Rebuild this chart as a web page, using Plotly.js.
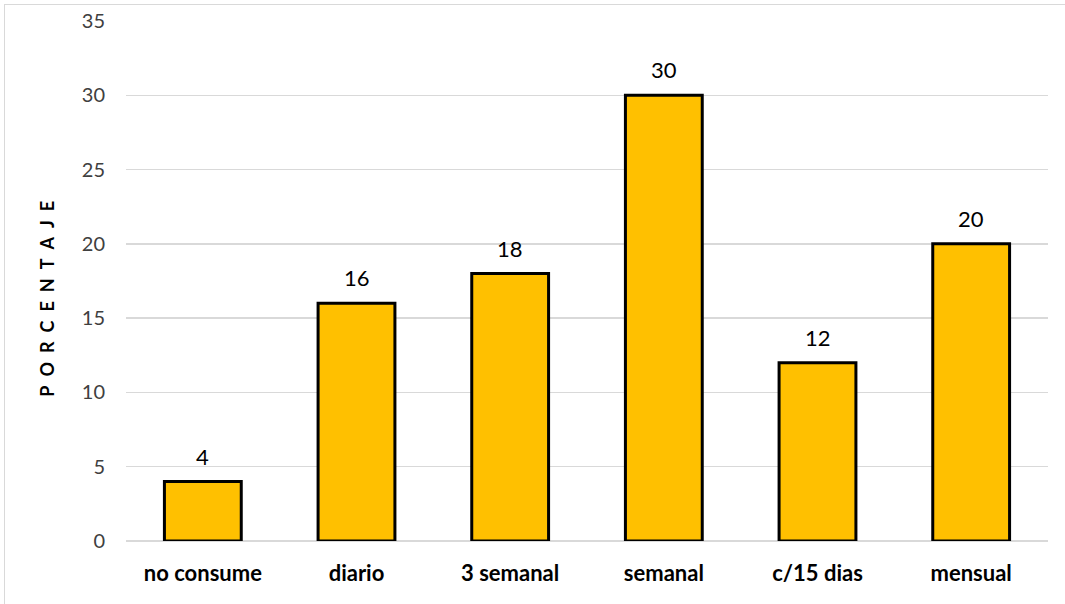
<!DOCTYPE html>
<html>
<head>
<meta charset="utf-8">
<script src="https://cdn.plot.ly/plotly-3.0.1.min.js"></script>
<style>
  html, body { margin: 0; padding: 0; background: #ffffff; }
  #wrap { position: relative; width: 1065px; height: 604px; overflow: hidden; }
  #chart { position: absolute; left: 0; top: 0; width: 1065px; height: 604px; }
  #frame { position: absolute; left: 4px; top: 4px; width: 1200px; height: 800px;
           border: 1.5px solid #d9d9d9; pointer-events: none; }
</style>
</head>
<body>
<div id="wrap">
  <div id="chart"></div>
  <div id="frame"></div>
</div>
<script>
// Frecuencia de consumo (porcentaje)
const categories = ["no consume", "diario", "3 semanal", "semanal", "c/15 dias", "mensual"];
const percentages = [4, 16, 18, 30, 12, 20];
const yTicks = [0, 5, 10, 15, 20, 25, 30, 35];
const yTitle = "PORCENTAJE";

const FONT = "Lato, 'Liberation Sans', sans-serif";

const trace = {
  type: "bar",
  x: categories,
  y: percentages,
  width: 0.5,
  marker: { color: "#FFC000", line: { color: "#000000", width: 3 } },
  hoverinfo: "x+y"
};

// value labels above each bar
const valueLabels = categories.map((c, i) => ({
  x: c, y: percentages[i], xref: "x", yref: "y",
  text: String(percentages[i]),
  showarrow: false, yanchor: "bottom", yshift: 10,
  font: { family: FONT, size: 22, color: "#000000" }
}));

// spaced-out vertical axis title
const spacedTitle = yTitle.split("").join("\u2002");
const titleAnn = {
  xref: "paper", yref: "paper",
  x: (47 - 126) / 922, y: 0.466,
  text: "<b>" + spacedTitle + "</b>",
  textangle: -90, showarrow: false,
  xanchor: "center", yanchor: "middle",
  font: { family: FONT, size: 18, color: "#000000" }
};

const layout = {
  width: 1065, height: 604,
  margin: { l: 126, r: 17, t: 21, b: 63 },
  paper_bgcolor: "#ffffff", plot_bgcolor: "#ffffff",
  showlegend: false,
  bargap: 0.5,
  xaxis: {
    type: "category",
    showgrid: false, zeroline: false, showline: false,
    ticks: "", ticklabelstandoff: 17,
    tickfont: { family: FONT, size: 22, color: "#000000", weight: "bold" }
  },
  yaxis: {
    range: [0, 35],
    tickvals: yTicks,
    ticktext: yTicks.map(String),
    showgrid: true, gridcolor: "#d9d9d9", gridwidth: 1.3,
    zeroline: true, zerolinecolor: "#d9d9d9", zerolinewidth: 1.3,
    showline: false, ticks: "", ticklabelstandoff: 20,
    tickfont: { family: FONT, size: 20, color: "#404040" }
  },
  annotations: valueLabels.concat([titleAnn])
};

Plotly.newPlot("chart", [trace], layout, { displayModeBar: false, staticPlot: true });
</script>
</body>
</html>
